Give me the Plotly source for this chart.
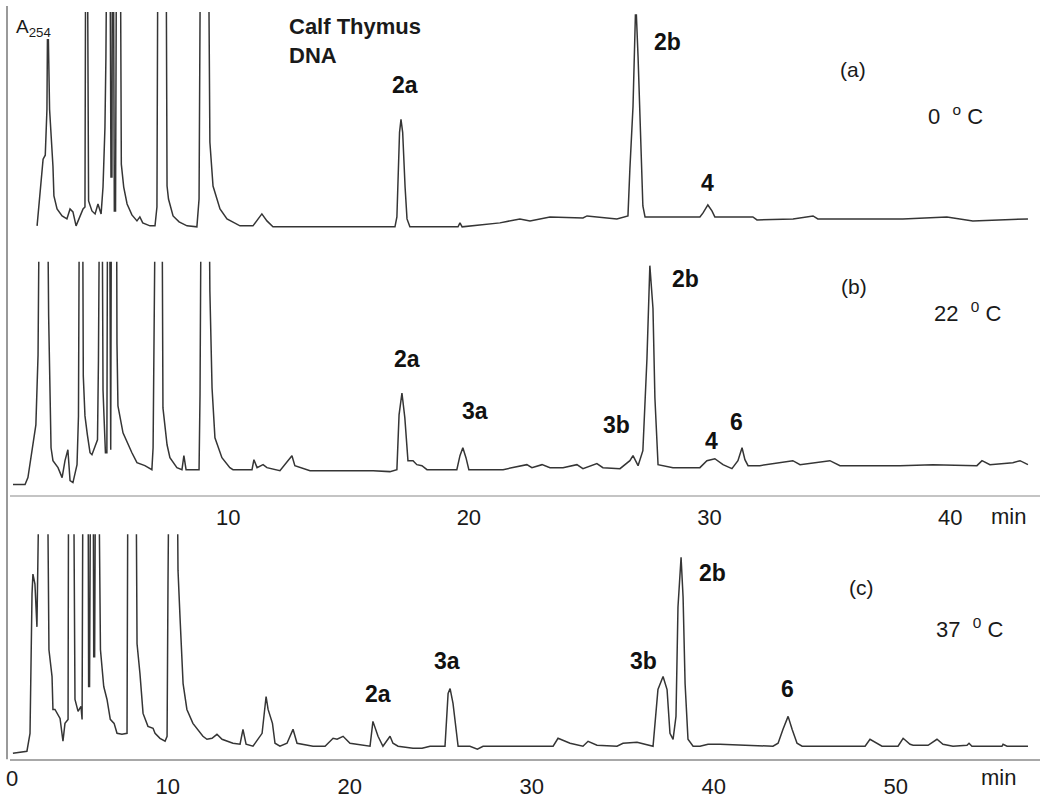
import plotly.graph_objects as go

# ---------------- data (retention time in min, absorbance in arbitrary units) -------------
# values above the visible range are off-scale peaks (clipped at the top of each panel)
trace_a = [
    (2.06, 1), (2.18, 35), (2.31, 68), (2.40, 72), (2.47, 118), (2.49, 188), (2.53, 188), (2.58, 118),
    (2.72, 61), (2.76, 31), (2.89, 18), (3.10, 11), (3.30, 8), (3.43, 18), (3.55, 15), (3.68, 1),
    (3.84, 11), (3.97, 18), (4.05, 20), (4.08, 300), (4.15, 300), (4.17, 68), (4.20, 26), (4.34, 16),
    (4.47, 13), (4.59, 23), (4.72, 13), (4.80, 40), (4.88, 100), (4.92, 170), (4.96, 300), (5.09, 300),
    (5.13, 50), (5.17, 50), (5.19, 300), (5.23, 300), (5.27, 16), (5.32, 16), (5.36, 300), (5.52, 300),
    (5.56, 63), (5.66, 40), (5.80, 23), (6.00, 12), (6.21, 6), (6.33, 10), (6.45, 4), (6.75, 1),
    (6.96, 1), (7.04, 20), (7.08, 300), (7.42, 300), (7.46, 41), (7.52, 28), (7.71, 11), (7.96, 5),
    (8.29, 1), (8.70, 0), (8.79, 28), (8.85, 300), (9.18, 300), (9.24, 85), (9.37, 41), (9.66, 18),
    (9.95, 8), (10.49, 1), (11.03, 1), (11.40, 13), (11.61, 6), (11.86, 0), (15.06, 0), (16.93, 0),
    (17.01, 10), (17.12, 95), (17.18, 108), (17.25, 95), (17.35, 40), (17.43, 8), (17.55, 0),
    (18.51, 0), (19.55, 0), (19.63, 4), (19.72, 0), (21.29, 4), (22.12, 8), (22.54, 6), (23.37, 10),
    (24.74, 9), (24.91, 11), (26.15, 8), (26.61, 11), (26.69, 58), (26.82, 121), (26.92, 213),
    (26.96, 213), (27.03, 171), (27.11, 101), (27.23, 21), (27.32, 10), (29.60, 10), (29.73, 14),
    (29.93, 22), (30.10, 16), (30.22, 10), (31.80, 10), (31.97, 7), (33.47, 8), (34.30, 11),
    (34.50, 8), (38.03, 8), (39.86, 10), (40.11, 9), (40.94, 6), (43.23, 8),
]

trace_b = [
    (1.06, -15), (1.56, -15), (1.68, -8), (1.85, 19), (1.89, 24), (2.01, 45), (2.10, 115), (2.16, 300),
    (2.49, 300), (2.54, 155), (2.64, 22), (2.72, 9), (2.93, 2), (3.10, -8), (3.22, 9), (3.34, 20),
    (3.43, -11), (3.55, -13), (3.72, 5), (3.78, 54), (3.82, 300), (3.95, 300), (3.98, 94), (4.05, 54),
    (4.15, 35), (4.26, 17), (4.34, 15), (4.47, 24), (4.57, 30), (4.61, 110), (4.66, 300), (4.76, 300),
    (4.80, 80), (4.84, 54), (4.90, 17), (4.96, 17), (4.99, 300), (5.07, 300), (5.10, 20), (5.12, 20),
    (5.15, 300), (5.36, 300), (5.38, 127), (5.42, 64), (5.63, 37), (6.00, 17), (6.21, 7), (6.54, 4),
    (6.83, 0), (6.88, 22), (6.98, 300), (7.25, 300), (7.29, 62), (7.46, 25), (7.58, 12), (7.87, 2),
    (8.08, 0), (8.16, 14), (8.25, 0), (8.79, 0), (8.83, 75), (8.88, 300), (9.20, 300), (9.24, 179),
    (9.33, 82), (9.45, 32), (9.74, 12), (10.07, 2), (10.20, 0), (10.99, 0), (11.07, 10), (11.20, 2),
    (11.45, 5), (11.61, 2), (12.15, -1), (12.65, 14), (12.77, 4), (13.40, -1), (15.06, -1),
    (16.02, -1), (16.72, -2), (17.01, 0), (17.10, 55), (17.22, 77), (17.34, 52), (17.47, 9),
    (17.68, 9), (17.84, 5), (18.05, 4), (18.26, 0), (19.50, 0), (19.63, 14), (19.75, 22), (19.88, 12),
    (20.00, 0), (21.42, 0), (22.41, 5), (22.62, 2), (23.04, 5), (23.37, 2), (23.91, 2), (24.49, 5),
    (24.74, 1), (25.32, 6), (25.57, 2), (26.28, 1), (26.69, 9), (26.82, 14), (27.03, 4), (27.23, 19),
    (27.40, 112), (27.52, 205), (27.65, 162), (27.73, 72), (27.86, 5), (28.48, 2), (29.60, 2),
    (29.89, 9), (30.22, 11), (30.56, 5), (30.93, 1), (31.18, 9), (31.35, 22), (31.47, 10), (31.60, 4),
    (32.09, 4), (33.46, 9), (33.76, 5), (35.00, 9), (35.42, 4), (37.91, 4), (39.28, 5), (41.11, 4),
    (41.32, 9), (41.65, 5), (42.60, 7), (42.90, 9), (43.23, 5),
]

trace_c = [
    (1.49, -7), (2.26, -5), (2.43, 13), (2.48, 97), (2.54, 153), (2.59, 173), (2.70, 163), (2.81, 120),
    (2.87, 197), (2.95, 300), (3.38, 300), (3.47, 97), (3.64, 70), (3.69, 37), (3.80, 37), (4.08, 28),
    (4.24, 5), (4.35, 23), (4.52, 27), (4.55, 300), (4.82, 300), (4.90, 47), (5.07, 35), (5.23, 40),
    (5.29, 27), (5.34, 300), (5.62, 300), (5.65, 60), (5.70, 60), (5.76, 300), (5.90, 300), (5.93, 90),
    (5.98, 90), (6.03, 300), (6.20, 300), (6.30, 97), (6.48, 60), (6.66, 47), (6.84, 27), (7.05, 23),
    (7.21, 13), (7.48, 12), (7.76, 13), (7.81, 300), (8.25, 300), (8.31, 103), (8.47, 73), (8.64, 33),
    (8.91, 20), (9.19, 18), (9.30, 13), (9.57, 8), (9.85, 5), (9.96, 10), (10.01, 163), (10.07, 300),
    (10.51, 300), (10.56, 177), (10.67, 130), (10.84, 63), (11.05, 37), (11.38, 23), (11.93, 10),
    (12.15, 7), (12.43, 8), (12.70, 12), (12.98, 7), (13.58, 3), (13.97, 2), (14.13, 17), (14.30, 2),
    (14.68, 0), (15.18, 13), (15.40, 50), (15.51, 37), (15.75, 23), (15.89, 3), (16.16, 0), (16.55, 3),
    (16.88, 17), (17.10, 3), (17.43, 2), (17.98, 0), (18.64, 0), (19.08, 8), (19.30, 7), (19.63, 10),
    (20.01, 3), (20.40, 2), (21.11, 0), (21.27, 25), (21.55, 10), (21.82, 0), (22.21, 10), (22.37, 3),
    (22.65, 0), (23.47, -2), (23.97, -2), (24.41, 0), (25.23, 0), (25.40, 53), (25.51, 58), (25.67, 43),
    (25.89, 13), (25.95, 0), (26.60, 0), (27.01, -3), (27.32, 0), (31.17, 0), (31.44, 8), (32.10, 3),
    (32.81, 0), (33.09, 5), (33.58, 1), (34.68, 0), (35.01, 3), (35.78, 4), (36.66, 0), (36.93, 57),
    (37.21, 70), (37.43, 57), (37.59, 13), (37.76, 7), (37.92, 30), (38.03, 140), (38.20, 190),
    (38.31, 150), (38.42, 63), (38.58, 7), (38.86, 0), (39.24, 0), (39.68, 2), (40.34, 2), (43.25, 0),
    (43.53, 3), (43.80, 17), (44.08, 30), (44.30, 17), (44.57, 3), (44.85, 0), (48.31, 0), (48.58, 7),
    (48.97, 3), (49.24, 0), (50.12, 0), (50.40, 8), (50.78, 2), (50.95, 1), (51.77, 1), (52.26, 7),
    (52.59, 2), (53.14, 0), (53.91, 1), (54.02, 3), (54.18, 0), (55.83, 0), (55.89, 2), (56.11, 0),
    (57.26, 0),
]

# peak labels: (text, time, height)
labels_a = [("2a", 17.35, 143), ("2b", 28.27, 186), ("4", 29.93, 44)]
labels_b = [("2a", 17.43, 111), ("3a", 20.25, 59), ("3b", 26.15, 45), ("2b", 29.02, 192),
            ("4", 30.10, 29), ("6", 31.14, 48)]
labels_c = [("2a", 21.55, 53), ("3a", 25.34, 86), ("3b", 36.16, 86), ("2b", 39.90, 174),
            ("6", 44.02, 58)]

ticks_b = [10, 20, 30, 40]
ticks_c = [10, 20, 30, 40, 50]

# ---------------- figure ----------------
W, H = 1050, 799
FONT = "Liberation Sans, Arial, sans-serif"
LINE = dict(color="#353535", width=1.5)


def px_x(p):
    return p / W


def px_y(p):
    return 1 - p / H


fig = go.Figure()
for tr, xa, ya in [(trace_a, "x3", "y3"), (trace_b, "x2", "y2"), (trace_c, "x", "y")]:
    t, v = zip(*tr)
    fig.add_trace(go.Scatter(x=list(t), y=list(v), mode="lines", line=LINE,
                             xaxis=xa, yaxis=ya, showlegend=False, hoverinfo="skip"))

xdom = [px_x(10), px_x(1040)]
common_x = dict(domain=xdom, showgrid=False, zeroline=False, fixedrange=True)
fig.update_layout(
    width=W, height=H, margin=dict(l=0, r=0, t=0, b=0),
    paper_bgcolor="white", plot_bgcolor="white",
    font=dict(family=FONT, color="#1a1a1a"),
    # panel (c) bottom
    xaxis=dict(**common_x, anchor="y", range=[1.33, 57.92], showline=True, linecolor="#a8a8a8",
               linewidth=2, tickmode="array", tickvals=ticks_c, ticks="",
               tickfont=dict(size=22, family=FONT, color="#1a1a1a"), ticklabelstandoff=6),
    yaxis=dict(domain=[px_y(763), px_y(537)], range=[-13, 213], visible=False, fixedrange=True),
    # panel (b) middle
    xaxis2=dict(**common_x, anchor="y2", range=[0.935, 43.73], showline=True, linecolor="#c4c4c4",
                linewidth=2, tickmode="array", tickvals=ticks_b, ticks="",
                tickfont=dict(size=22, family=FONT, color="#1a1a1a"), ticklabelstandoff=2),
    yaxis2=dict(domain=[px_y(497), px_y(263)], range=[-25, 209], visible=False, fixedrange=True),
    # panel (a) top
    xaxis3=dict(**common_x, anchor="y3", range=[0.935, 43.73], visible=False),
    yaxis3=dict(domain=[px_y(245), px_y(12)], range=[-17, 216], visible=False, fixedrange=True),
)

# left vertical frame line
fig.add_shape(type="line", xref="paper", yref="paper", x0=px_x(7), x1=px_x(7),
              y0=px_y(763), y1=px_y(6), line=dict(color="#9a9a9a", width=2))

ann = []
for labs, xr, yr in [(labels_a, "x3", "y3"), (labels_b, "x2", "y2"), (labels_c, "x", "y")]:
    for txt, t, v in labs:
        ann.append(dict(text=f"<b>{txt}</b>", x=t, y=v, xref=xr, yref=yr, showarrow=False,
                        xanchor="center", yanchor="middle", font=dict(size=23, family=FONT, color="#111")))


def ptxt(text, x, y, size=22, xanchor="center", bold=False):
    return dict(text=(f"<b>{text}</b>" if bold else text), x=px_x(x), y=px_y(y), xref="paper",
                yref="paper", showarrow=False, xanchor=xanchor, yanchor="middle",
                font=dict(size=size, family=FONT, color="#1a1a1a"))


ann += [
    ptxt("A<sub>254</sub>", 14, 28, size=19, xanchor="left"),
    ptxt("Calf Thymus", 287, 27, size=22, xanchor="left", bold=True),
    ptxt("DNA", 287, 56, size=22, xanchor="left", bold=True),
    ptxt("(a)", 853, 70, size=21),
    ptxt("0&nbsp;&nbsp;<sup>o</sup>&nbsp;C", 926, 116, size=22, xanchor="left"),
    ptxt("(b)", 854, 288, size=21),
    ptxt("22&nbsp;&nbsp;<sup>0</sup>&nbsp;C", 932, 314, size=22, xanchor="left"),
    ptxt("(c)", 861, 590, size=21),
    ptxt("37&nbsp;&nbsp;<sup>0</sup>&nbsp;C", 934, 631, size=22, xanchor="left"),
    ptxt("min", 1008, 519, size=22),
    ptxt("min", 998, 781, size=22),
    ptxt("0", 12, 782, size=22),
]
fig.update_layout(annotations=ann)

fig.write_html("out.html", config={"displayModeBar": False, "staticPlot": True},
               post_script="document.body.style.margin='0';document.body.style.overflow='hidden';")
